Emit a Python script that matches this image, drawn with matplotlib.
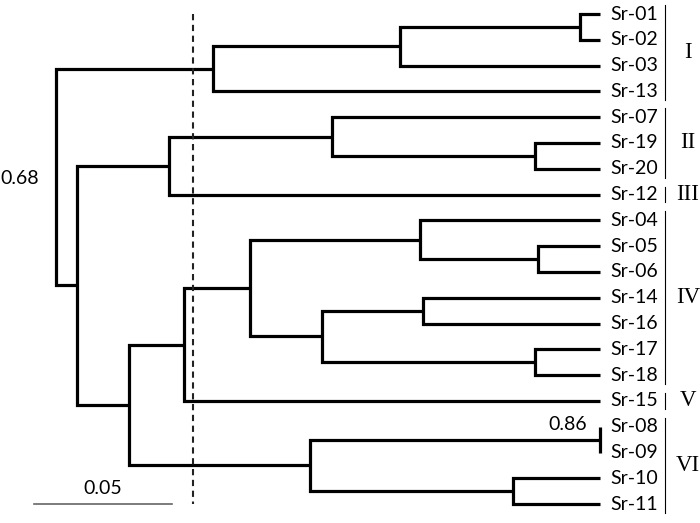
import numpy as np
import matplotlib
matplotlib.use('Agg')
import matplotlib.pyplot as plt

# leaf order, top to bottom
leaves = ['Sr-01', 'Sr-02', 'Sr-03', 'Sr-13', 'Sr-07', 'Sr-19', 'Sr-20',
          'Sr-12', 'Sr-04', 'Sr-05', 'Sr-06', 'Sr-14', 'Sr-16', 'Sr-17',
          'Sr-18', 'Sr-15', 'Sr-08', 'Sr-09', 'Sr-10', 'Sr-11']

# internal nodes: name, child a, child b, height (distance from tips)
node_names = ['n0102', 'n010203', 'nI', 'n1920', 'n07', 'nII', 'n0506',
              'n04', 'n1416', 'n1718', 'n1418', 'nIVa', 'nIV', 'n0809',
              'n1011', 'nVI', 'nIVVI', 'nIIVI', 'root']
node_a = ['Sr-01', 'n0102', 'n010203', 'Sr-19', 'Sr-07', 'n07', 'Sr-05',
          'Sr-04', 'Sr-14', 'Sr-17', 'n1416', 'n04', 'nIVa', 'Sr-08',
          'Sr-10', 'n0809', 'nIV', 'nII', 'nI']
node_b = ['Sr-02', 'Sr-03', 'Sr-13', 'Sr-20', 'n1920', 'Sr-12', 'Sr-06',
          'n0506', 'Sr-16', 'Sr-18', 'n1718', 'n1418', 'Sr-15', 'Sr-09',
          'Sr-11', 'n1011', 'nVI', 'nIVVI', 'nIIVI']
node_h = [0.0072, 0.0725, 0.1402, 0.0236, 0.0971, 0.1562, 0.0225,
          0.0652, 0.0641, 0.0236, 0.1007, 0.1268, 0.1507, 0.0,
          0.0315, 0.1051, 0.1707, 0.1895, 0.1971]

# groups: label, first leaf, last leaf
groups = ['I', 'II', 'III', 'IV', 'V', 'VI']
group_first = ['Sr-01', 'Sr-07', 'Sr-12', 'Sr-04', 'Sr-15', 'Sr-08']
group_last = ['Sr-13', 'Sr-20', 'Sr-12', 'Sr-18', 'Sr-15', 'Sr-11']

cut_height = 0.1475
scale_len = 0.05

fig = plt.figure(figsize=(7.0, 5.23), dpi=100)
ax = fig.add_axes([0, 0, 1, 1])
ax.set_xlim(0.2174, -0.0362)
ax.set_ylim(19.73, -0.543)
ax.axis('off')

ypos = {name: i for i, name in enumerate(leaves)}
hpos = {name: 0.0 for name in leaves}
for name, a, b, h in zip(node_names, node_a, node_b, node_h):
    ypos[name] = (ypos[a] + ypos[b]) / 2.0
    hpos[name] = h
    ax.plot([hpos[a], h, h, hpos[b]], [ypos[a], ypos[a], ypos[b], ypos[b]],
            color='black', lw=2.3, solid_joinstyle='miter',
            solid_capstyle='butt')

lab_font = 'Lato'
for name in leaves:
    ax.text(-0.0036, ypos[name], name, ha='left', va='center',
            fontsize=14, family=lab_font)

for g, a, b in zip(groups, group_first, group_last):
    pad = 0.3 if a == b else 0.35
    ya, yb = ypos[a] - pad, ypos[b] + pad
    ax.plot([-0.0236, -0.0236], [ya, yb], color='black', lw=0.8)
    ax.text(-0.0318, (ypos[a] + ypos[b]) / 2.0, g, ha='center', va='center',
            fontsize=16.5, family='Liberation Serif')

# cut line
ax.plot([cut_height, cut_height], [0, len(leaves) - 1], color='#222222',
        lw=1.5, ls=(0, (3, 2.2)))

# scale bar
ax.plot([0.2051, 0.2051 - scale_len], [19.0, 19.0], color='#666666', lw=1.2)
ax.text(0.2051 - scale_len / 2, 18.4, '0.05', ha='center', va='center',
        fontsize=14, family=lab_font)

# support values
ax.text(0.2174, ypos['root'] + 0.05, '0.68', ha='left', va='center',
        fontsize=14, family=lab_font)
ax.text(0.0047, 15.93, '0.86', ha='right', va='center',
        fontsize=14, family=lab_font)

fig.savefig('out.png', dpi=100)
